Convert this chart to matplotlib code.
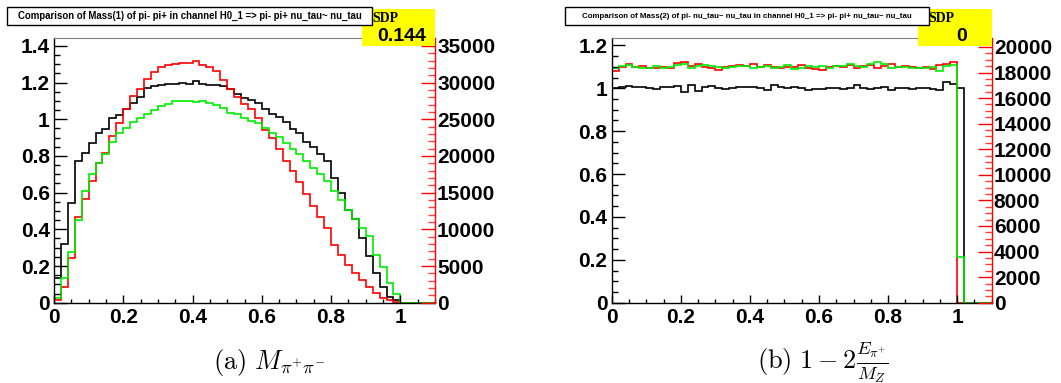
import numpy as np
import matplotlib

matplotlib.use("Agg")
from matplotlib import pyplot as plt  # noqa: E402
from matplotlib.patches import Rectangle  # noqa: E402
from matplotlib.ticker import MultipleLocator  # noqa: E402

W, H = 1061, 383

# bin edges: 55 bins of width 0.02 from 0 to 1.1
bin_edges = np.linspace(0.0, 1.1, 56)

# panel (a): normalised M(pi+ pi-)
mass1_black = [0.137, 0.32, 0.544, 0.772, 0.814, 0.872, 0.923, 0.945, 1.005, 1.024,
               1.055, 1.091, 1.119, 1.168, 1.179, 1.186, 1.19, 1.193, 1.20, 1.19,
               1.206, 1.19, 1.188, 1.186, 1.179, 1.164, 1.137, 1.115, 1.104, 1.086,
               1.055, 1.027, 1.015, 0.985, 0.949, 0.923, 0.876, 0.850, 0.808, 0.772,
               0.681, 0.599, 0.504, 0.456, 0.352, 0.255, 0.161, 0.084, 0.033, 0.015,
               0, 0, 0, 0, 0]
mass1_red = [0.015, 0.088, 0.243, 0.467, 0.567, 0.662, 0.763, 0.818, 0.909, 0.978,
             1.055, 1.128, 1.164, 1.219, 1.255, 1.283, 1.297, 1.301, 1.305, 1.307,
             1.316, 1.297, 1.283, 1.265, 1.214, 1.164, 1.119, 1.082, 1.055, 1.009,
             0.942, 0.900, 0.839, 0.772, 0.717, 0.657, 0.593, 0.529, 0.467, 0.407,
             0.316, 0.261, 0.206, 0.161, 0.124, 0.088, 0.055, 0.027, 0.015, 0.005,
             0, 0, 0, 0, 0]
mass1_green = [0.024, 0.133, 0.276, 0.453, 0.608, 0.704, 0.763, 0.808, 0.876, 0.927,
               0.954, 0.985, 1.009, 1.027, 1.051, 1.073, 1.082, 1.100, 1.099, 1.100,
               1.095, 1.099, 1.091, 1.077, 1.064, 1.036, 1.027, 1.009, 0.991, 0.982,
               0.954, 0.927, 0.905, 0.869, 0.839, 0.808, 0.772, 0.735, 0.699, 0.662,
               0.608, 0.562, 0.504, 0.456, 0.407, 0.361, 0.261, 0.197, 0.106, 0.047,
               0, 0, 0, 0, 0]

# panel (b): normalised 1 - 2 E(pi+)/M_Z
mass2_black = [1.003, 1.005, 1.009, 1.005, 1.005, 1.0, 0.995, 1.005, 1.008, 1.012,
               0.984, 1.016, 0.988, 1.006, 1.009, 1.003, 0.995, 1.0, 1.005, 1.008,
               1.005, 1.002, 0.994, 1.016, 1.005, 1.0, 1.005, 1.0, 0.992, 0.997,
               0.995, 1.0, 1.003, 0.995, 1.003, 1.014, 1.0, 0.995, 1.003, 1.005,
               0.992, 1.0, 1.003, 0.998, 1.0, 1.003, 0.998, 0.994, 1.028, 1.019,
               1.003, 0, 0, 0, 0]
mass2_red = [1.082, 1.101, 1.112, 1.101, 1.106, 1.096, 1.093, 1.101, 1.093, 1.117,
             1.121, 1.106, 1.112, 1.101, 1.096, 1.086, 1.101, 1.104, 1.109, 1.104,
             1.112, 1.101, 1.109, 1.100, 1.093, 1.098, 1.101, 1.109, 1.096, 1.089,
             1.086, 1.100, 1.106, 1.098, 1.109, 1.096, 1.104, 1.109, 1.096, 1.104,
             1.114, 1.098, 1.106, 1.098, 1.096, 1.101, 1.090, 1.109, 1.112, 1.121,
             0, 0, 0, 0, 0]
mass2_green = [1.093, 1.104, 1.109, 1.101, 1.096, 1.093, 1.103, 1.096, 1.101, 1.109,
               1.112, 1.096, 1.104, 1.109, 1.106, 1.101, 1.093, 1.101, 1.104, 1.104,
               1.096, 1.101, 1.106, 1.096, 1.101, 1.109, 1.089, 1.096, 1.104, 1.100,
               1.104, 1.093, 1.103, 1.106, 1.112, 1.104, 1.101, 1.112, 1.121, 1.112,
               1.096, 1.101, 1.100, 1.096, 1.096, 1.093, 1.100, 1.082, 1.104, 1.109,
               0.215, 0, 0, 0, 0]

titles = [
    "Comparison of Mass(1) of pi- pi+ in channel H0_1 => pi- pi+ nu_tau~ nu_tau",
    "Comparison of Mass(2) of pi- nu_tau~ nu_tau in channel H0_1 => pi- pi+ nu_tau~ nu_tau",
]
sdp_values = ["0.144", "0"]
captions = [r"$\mathrm{(a)}\ M_{\pi^{+}\pi^{-}}$",
            r"$\mathrm{(b)}\ 1-2\frac{E_{\pi^{+}}}{M_Z}$"]

plt.rcParams["font.family"] = ["Liberation Sans", "DejaVu Sans"]
plt.rcParams["font.weight"] = "bold"
plt.rcParams["mathtext.fontset"] = "cm"


def fx(px):
    return px / W


def fy(py):
    return 1 - py / H


fig = plt.figure(figsize=(W / 100, H / 100), dpi=100)

panels = [
    dict(left=54, right=435, top_val=1.443, right_top=36080, right_major=5000,
         right_minor=1000, data=(mass1_black, mass1_red, mass1_green),
         title_box=(7, 7, 372, 25), title_size=6.9,
         sdp_box=(362, 9, 435, 46), sdp_text_x=426, caption_x=269),
    dict(left=611.7, right=991.7, top_val=1.2346, right_top=20700, right_major=2000,
         right_minor=500, data=(mass2_black, mass2_red, mass2_green),
         title_box=(565, 7, 929, 25), title_size=5.7,
         sdp_box=(918, 9, 992, 46), sdp_text_x=967, caption_x=823),
]

bottom_px, top_px = 302.7, 38
tick_font = 15

for i, p in enumerate(panels):
    ax = fig.add_axes([fx(p["left"]), fy(bottom_px), fx(p["right"] - p["left"]),
                       (bottom_px - top_px) / H])
    black, red, green = p["data"]
    ax.stairs(black, bin_edges, baseline=None, color="black", lw=1.2)
    ax.stairs(red, bin_edges, baseline=None, color="#ff0000", lw=1.2)
    ax.stairs(green, bin_edges, baseline=None, color="#00ee00", lw=1.2)

    ax.set_xlim(0, 1.1)
    ax.set_ylim(0, p["top_val"])
    ax.xaxis.set_major_locator(MultipleLocator(0.2))
    ax.xaxis.set_minor_locator(MultipleLocator(0.05))
    ax.yaxis.set_major_locator(MultipleLocator(0.2))
    ax.yaxis.set_minor_locator(MultipleLocator(0.05))
    ax.xaxis.set_major_formatter(lambda v, pos: f"{v:g}")
    ax.yaxis.set_major_formatter(lambda v, pos: f"{v:g}")
    ax.tick_params(axis="x", which="major", direction="in", length=6, width=1,
                   labelsize=tick_font, pad=4)
    ax.tick_params(axis="x", which="minor", direction="in", length=3, width=1)
    ax.tick_params(axis="y", which="major", direction="in", length=9, width=1,
                   labelsize=tick_font, pad=3)
    ax.tick_params(axis="y", which="minor", direction="in", length=4.5, width=1)
    ax.spines["top"].set_color("#808080")
    ax.spines["top"].set_linewidth(0.8)
    ax.spines["right"].set_visible(False)
    for side in ("left", "bottom"):
        ax.spines[side].set_linewidth(1.0)

    twin = ax.twinx()
    twin.set_ylim(0, p["right_top"])
    twin.yaxis.set_major_locator(MultipleLocator(p["right_major"]))
    twin.yaxis.set_minor_locator(MultipleLocator(p["right_minor"]))
    twin.tick_params(axis="y", which="major", direction="in", length=10, width=1,
                     colors="#ff0000", labelcolor="black", labelsize=tick_font, pad=1.5)
    twin.tick_params(axis="y", which="minor", direction="in", length=5, width=1,
                     colors="#ff4040")
    twin.spines["right"].set_color("#ff0000")
    twin.spines["right"].set_linewidth(1.0)
    for side in ("top", "left", "bottom"):
        twin.spines[side].set_visible(False)

    # yellow SDP box
    x0, y0, x1, y1 = p["sdp_box"]
    fig.add_artist(Rectangle((fx(x0), fy(y1)), fx(x1 - x0), (y1 - y0) / H,
                             transform=fig.transFigure, facecolor="#ffff00",
                             edgecolor="none", zorder=5))
    fig.text(fx(x0 + 10), fy(18), "SDP", family="Liberation Serif", weight="bold",
             fontsize=10, ha="left", va="center", zorder=7)
    fig.text(fx(p["sdp_text_x"]), fy(36.5), sdp_values[i], fontsize=14,
             weight="bold", ha="right", va="center", zorder=7)

    # title box
    x0, y0, x1, y1 = p["title_box"]
    fig.add_artist(Rectangle((fx(x0), fy(y1)), fx(x1 - x0), (y1 - y0) / H,
                             transform=fig.transFigure, facecolor="white",
                             edgecolor="black", lw=1.0, zorder=6))
    fig.text(fx((x0 + x1) / 2), fy((y0 + y1) / 2), titles[i], fontsize=p["title_size"],
             weight="bold", ha="center", va="center", zorder=7)

    fig.text(fx(p["caption_x"]), fy(362), captions[i], fontsize=19, weight="normal",
             ha="center", va="center")

fig.savefig("out.png", dpi=100)
plt.close(fig)
